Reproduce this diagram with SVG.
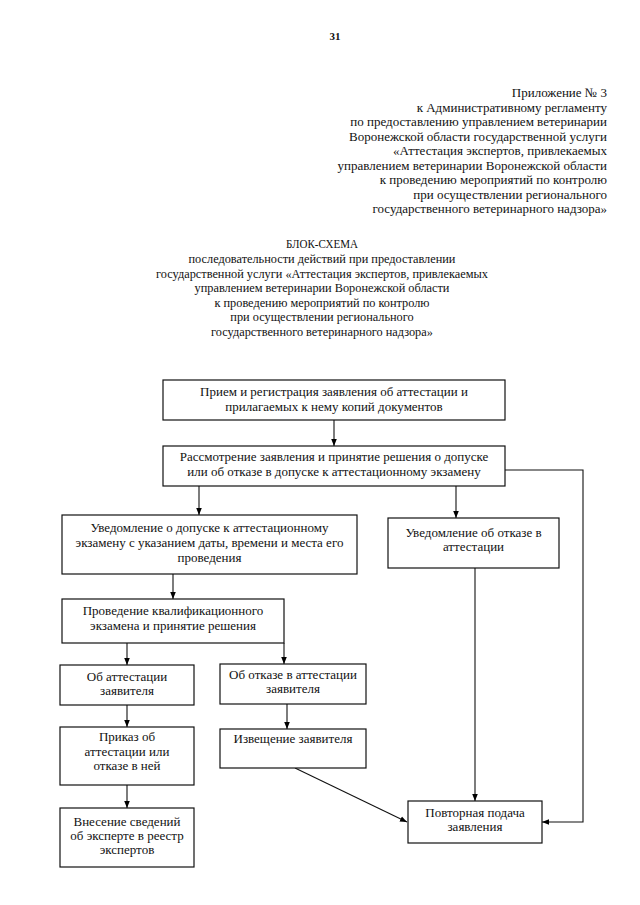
<svg xmlns="http://www.w3.org/2000/svg" width="640" height="905" viewBox="0 0 640 905">
<defs>
<marker id="ah" viewBox="0 0 10 10" refX="10" refY="5" markerWidth="7" markerHeight="7" markerUnits="userSpaceOnUse" orient="auto">
<path d="M0,1 L10,5 L0,9 Z" fill="#000"/>
</marker>
<style>
text{font-family:"Liberation Serif","Times New Roman",serif;font-size:13px;fill:#111}
.r{text-anchor:end}
.m{text-anchor:middle}
.t{font-size:12.3px}
.box{fill:#fff;stroke:#111;stroke-width:1.2}
.c{fill:none;stroke:#111;stroke-width:1.1;marker-end:url(#ah)}
.pn{font-size:11px;font-weight:bold}
</style>
</defs>
<rect width="640" height="905" fill="#fff"/>
<text class="m pn" x="335" y="40">31</text>
<g id="header">
<text class="r" x="607" y="97">Приложение № 3</text>
<text class="r" x="607" y="111.5">к Административному регламенту</text>
<text class="r" x="607" y="126">по предоставлению управлением ветеринарии</text>
<text class="r" x="607" y="140.5">Воронежской области государственной услуги</text>
<text class="r" x="607" y="155">«Аттестация экспертов, привлекаемых</text>
<text class="r" x="607" y="169.5">управлением ветеринарии Воронежской области</text>
<text class="r" x="607" y="184">к проведению мероприятий по контролю</text>
<text class="r" x="607" y="198.5">при осуществлении регионального</text>
<text class="r" x="607" y="213">государственного ветеринарного надзора»</text>
</g>
<g id="title">
<text class="m t" x="322" y="248" textLength="72" lengthAdjust="spacingAndGlyphs">БЛОК-СХЕМА</text>
<text class="m t" x="322" y="263">последовательности действий при предоставлении</text>
<text class="m t" x="322" y="277.5">государственной услуги «Аттестация экспертов, привлекаемых</text>
<text class="m t" x="322" y="292">управлением ветеринарии Воронежской области</text>
<text class="m t" x="322" y="306.5">к проведению мероприятий по контролю</text>
<text class="m t" x="322" y="321">при осуществлении регионального</text>
<text class="m t" x="322" y="335.5">государственного ветеринарного надзора»</text>
</g>
<g id="connectors">
<line class="c" x1="334" y1="420" x2="334" y2="446"/>
<line class="c" x1="199" y1="486" x2="199" y2="515"/>
<line class="c" x1="456" y1="486" x2="456" y2="518"/>
<polyline class="c" points="505,470 583,470 583,822 542,822"/>
<line class="c" x1="173" y1="574" x2="173" y2="599"/>
<line class="c" x1="127" y1="643" x2="127" y2="665"/>
<line class="c" x1="284" y1="643" x2="284" y2="664"/>
<line class="c" x1="287" y1="704" x2="287" y2="729"/>
<line class="c" x1="127" y1="705" x2="127" y2="727"/>
<line class="c" x1="127" y1="785" x2="127" y2="808"/>
<line class="c" x1="475" y1="568" x2="475" y2="801"/>
<line class="c" x1="295" y1="768" x2="407" y2="822"/>
</g>
<g id="n1"><rect class="box" x="163" y="380" width="342" height="40"/>
<text class="m" x="334" y="396">Прием и регистрация заявления об аттестации и</text>
<text class="m" x="334" y="411">прилагаемых к нему копий документов</text></g>
<g id="n2"><rect class="box" x="163" y="446" width="342" height="40"/>
<text class="m" x="334" y="461">Рассмотрение заявления и принятие решения о допуске</text>
<text class="m" x="334" y="476">или об отказе в допуске к аттестационному экзамену</text></g>
<g id="n3"><rect class="box" x="62" y="515" width="295" height="59"/>
<text class="m" x="209.5" y="532">Уведомление о допуске к аттестационному</text>
<text class="m" x="209.5" y="547">экзамену с указанием даты, времени и места его</text>
<text class="m" x="209.5" y="561.5">проведения</text></g>
<g id="n4"><rect class="box" x="388" y="518" width="171" height="50"/>
<text class="m" x="473.5" y="537">Уведомление об отказе в</text>
<text class="m" x="473.5" y="551">аттестации</text></g>
<g id="n5"><rect class="box" x="62" y="599" width="222" height="44"/>
<text class="m" x="173" y="615">Проведение квалификационного</text>
<text class="m" x="173" y="630">экзамена и принятие решения</text></g>
<g id="n6"><rect class="box" x="60" y="665" width="134" height="40"/>
<text class="m" x="127" y="681">Об аттестации</text>
<text class="m" x="127" y="695">заявителя</text></g>
<g id="n7"><rect class="box" x="220" y="664" width="146" height="40"/>
<text class="m" x="293" y="679">Об отказе в аттестации</text>
<text class="m" x="293" y="693">заявителя</text></g>
<g id="n8"><rect class="box" x="60" y="727" width="134" height="58"/>
<text class="m" x="127" y="741">Приказ об</text>
<text class="m" x="127" y="755.5">аттестации или</text>
<text class="m" x="127" y="770">отказе в ней</text></g>
<g id="n9"><rect class="box" x="220" y="729" width="146" height="39"/>
<text class="m" x="293" y="743">Извещение заявителя</text></g>
<g id="n10"><rect class="box" x="60" y="808" width="134" height="59"/>
<text class="m" x="127" y="826">Внесение сведений</text>
<text class="m" x="127" y="840">об эксперте в реестр</text>
<text class="m" x="127" y="854">экспертов</text></g>
<g id="n11"><rect class="box" x="408" y="801" width="134" height="42"/>
<text class="m" x="475" y="817">Повторная подача</text>
<text class="m" x="475" y="831">заявления</text></g>
</svg>
